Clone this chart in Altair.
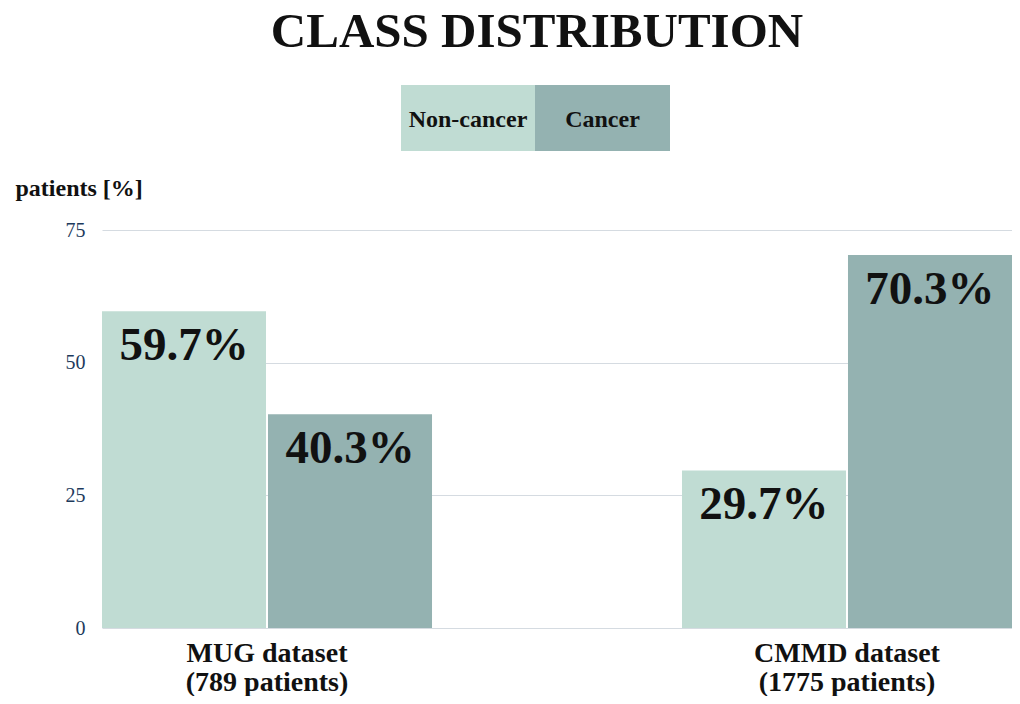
import altair as alt
import pandas as pd

# ---- data ----
datasets = ["MUG dataset", "CMMD dataset"]
patients = ["(789 patients)", "(1775 patients)"]
classes = ["Non-cancer", "Cancer"]
non_cancer = [59.7, 29.7]
cancer = [40.3, 70.3]
y_ticks = [0, 25, 50, 75]
title_text = "CLASS DISTRIBUTION"
y_title = "patients [%]"

colors = ["#c0dcd3", "#94b2b1"]
FONT = "Liberation Serif"

rows = []
for d, p, nc, c in zip(datasets, patients, non_cancer, cancer):
    key = d + "|" + p
    rows.append({"dataset": key, "cls": classes[0], "pct": nc})
    rows.append({"dataset": key, "cls": classes[1], "pct": c})
df = pd.DataFrame(rows)
df["label"] = df["pct"].map(lambda v: f"{v:.1f}%")

x_dom = [d + "|" + p for d, p in zip(datasets, patients)]

x_enc = alt.X("dataset:N", sort=x_dom,
              scale=alt.Scale(domain=x_dom, paddingInner=0.431, paddingOuter=0),
              axis=alt.Axis(title=None, labelExpr="split(datum.label, '|')",
                            labelFont=FONT, labelFontSize=28, labelFontWeight="bold",
                            labelColor="#111111", labelAngle=0, labelPadding=11,
                            labelLineHeight=29, labelLimit=600, domain=False,
                            ticks=False, tickSize=0, grid=False))
xo_enc = alt.XOffset("cls:N", sort=classes,
                     scale=alt.Scale(domain=classes, paddingInner=0.012, paddingOuter=0))
y_enc = alt.Y("pct:Q", scale=alt.Scale(domain=[0, 75], nice=False),
              axis=alt.Axis(values=y_ticks, title=y_title, titleAngle=0,
                            titleAlign="left", titleBaseline="alphabetic",
                            titleX=-87, titleY=-35, titleFont=FONT,
                            titleFontSize=24, titleFontWeight="bold",
                            titleColor="#111111",
                            labelFont=FONT, labelFontSize=20, labelColor="#1d3a5c",
                            labelPadding=17, domain=False, ticks=False, tickSize=0,
                            grid=True, gridColor="#d5dbe1", gridWidth=1.2))

base = alt.Chart(df)
bars = base.mark_bar().encode(
    x=x_enc, xOffset=xo_enc, y=y_enc,
    color=alt.Color("cls:N", scale=alt.Scale(domain=classes, range=colors), legend=None),
)
labels = base.mark_text(font=FONT, fontSize=47, fontWeight="bold", color="#111111",
                        baseline="alphabetic", dy=49).encode(
    x=x_enc, xOffset=xo_enc, y=y_enc, text="label:N")

one = pd.DataFrame({"t": [title_text]})
title = alt.Chart(one).mark_text(font=FONT, fontSize=49, fontWeight="bold",
                                 color="#111111", baseline="alphabetic").encode(
    text="t:N", x=alt.value(435), y=alt.value(-183))

# legend boxes (relative to plot area origin)
leg_layers = []
leg_x = [(299, 433), (433, 568)]
for (x0, x1), cls, col in zip(leg_x, classes, colors):
    d1 = pd.DataFrame({"t": [cls]})
    r = alt.Chart(d1).mark_rect(color=col).encode(
        x=alt.value(x0), x2=alt.value(x1), y=alt.value(-145), y2=alt.value(-79))
    t = alt.Chart(d1).mark_text(font=FONT, fontSize=24, fontWeight="bold",
                                color="#111111", baseline="middle").encode(
        text="t:N", x=alt.value((x0 + x1) / 2), y=alt.value(-110))
    leg_layers += [r, t]

chart = alt.layer(bars, labels, title, *leg_layers).properties(
    width=910, height=398,
    padding={"left": 94, "top": 222, "right": 0, "bottom": 68},
    autosize="none",
).configure_view(stroke=None)

chart.save("out.html", embed_options={"renderer": "svg", "actions": False})
